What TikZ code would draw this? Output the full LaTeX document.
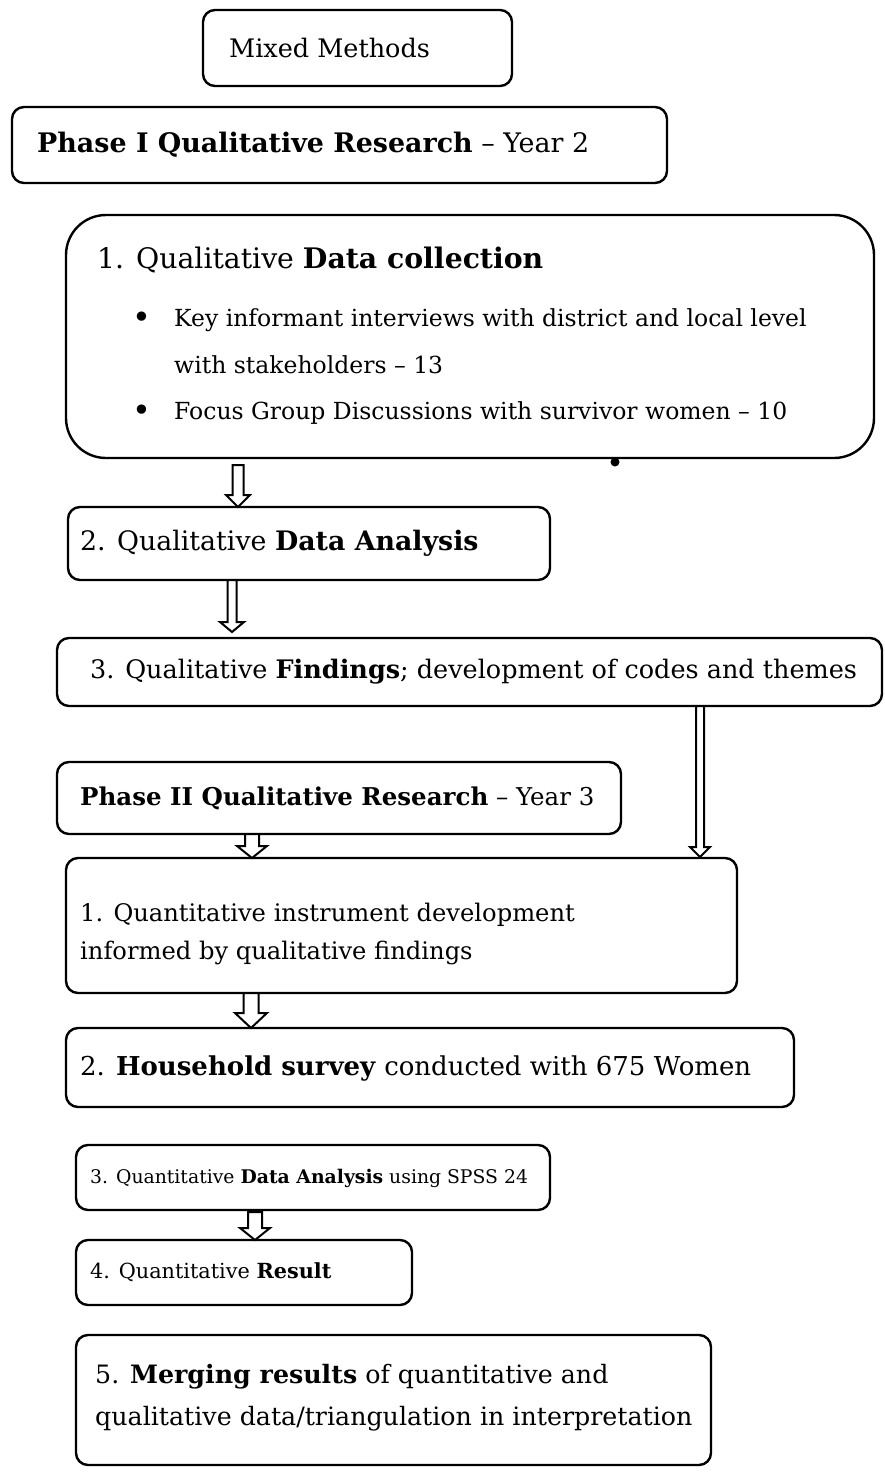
\documentclass[tikz,border=0pt]{standalone}
\usepackage{fontspec}
\setmainfont{DejaVu Serif}
\usetikzlibrary{calc,fit}
\newcommand\holarrow[5]{%
  \draw[arr] let \p1=#1, \p2=#2 in
    (\x1-#3,\y1) -- (\x1+#3,\y1) -- (\x1+#3,\y2+#5) -- (\x1+#4,\y2+#5)
    -- (\x1,\y2) -- (\x1-#4,\y2+#5) -- (\x1-#3,\y2+#5) -- cycle;}
\begin{document}
\begin{tikzpicture}[x=1pt,y=-1pt,
  box/.style={draw,line width=2.4pt,rounded corners=12pt,inner sep=0pt,outer sep=0pt},
  bigbox/.style={box,rounded corners=40pt},
  txt/.style={inner sep=0pt,anchor=west,align=left},
  fs/.style={font=\fontsize{#1}{38}\selectfont},
  fsw/.style={font=\fontsize{#1}{42}\selectfont},
  arr/.style={draw,line width=2pt,fill=white,line join=miter}]
\useasboundingbox (0,0) rectangle (885,1477);
% boxes
\node[box,fit={(203,10) (512,86)}] (mm) {};
\node[box,fit={(12,107) (667,183)}] (p1) {};
\node[bigbox,fit={(66,215) (874,458)}] (dc) {};
\node[box,fit={(68,507) (550,580)}] (da) {};
\node[box,fit={(57,638) (882,706)}] (fi) {};
\node[box,fit={(57,762) (621,834)}] (p2) {};
\node[box,fit={(66,858) (737,993)}] (qi) {};
\node[box,fit={(66,1028) (794,1107)}] (hs) {};
\node[box,fit={(76,1145) (550,1210)}] (qa) {};
\node[box,fit={(76,1240) (412,1305)}] (qr) {};
\node[box,fit={(76,1335) (711,1465)}] (mr) {};
% texts
\node[txt,fs=25.5] (mmT) at (229,48) {Mixed Methods};
\node[txt,fs=26.9] (p1T) at (37,145) {\textbf{Phase I Qualitative Research} – Year 2};
\node[txt,fs=28.3] (dcT) at (97,260) {1. Qualitative \textbf{Data collection}};
\node[txt,fs=32] (b1) at (132,320) {\textbullet};
\node[txt,fs=23.5] (b1T) at (174,320) {Key informant interviews with district and local level};
\node[txt,fs=23.5] (b1U) at (174,365) {with stakeholders – 13};
\node[txt,fs=32] (b2) at (132,413) {\textbullet};
\node[txt,fs=23.5] (b2T) at (174,413) {Focus Group Discussions with survivor women – 10};
\node[txt,fs=26.8] (daT) at (80,543) {2. Qualitative \textbf{Data Analysis}};
\node[txt,fs=25.5] (fiT) at (90,672) {3. Qualitative \textbf{Findings}; development of codes and themes};
\node[txt,fs=24.5] (p2T) at (80,798) {\textbf{Phase II Qualitative Research} – Year 3};
\node[txt,fs=24.2] (qiT) at (80,934) {1. Quantitative instrument development\\informed by qualitative findings};
\node[txt,fs=26] (hsT) at (80,1068) {2. \textbf{Household survey} conducted with 675 Women};
\node[txt,fs=18.8] (qaT) at (90,1178) {3. Quantitative \textbf{Data Analysis} using SPSS 24};
\node[txt,fs=20.8] (qrT) at (90,1272) {4. Quantitative \textbf{Result}};
\node[txt,fsw=25.3] (mrT) at (95,1398) {5. \textbf{Merging results} of quantitative and\\qualitative data/triangulation in interpretation};
% stray dot under the first box
\fill (615,462) circle (4.5);
% arrow axes
\coordinate (x1) at (238,0);
\coordinate (x2) at (232,0);
\coordinate (x3) at (700,0);
\coordinate (x4) at (252,0);
\coordinate (x5) at (251,0);
\coordinate (x6) at (255,0);
% hollow arrows
\holarrow{($(x1 |- dc.south)+(0,7)$)}{(x1 |- da.north)}{5.5pt}{12pt}{12pt}
\holarrow{(x2 |- da.south)}{($(x2 |- fi.north)+(0,-6)$)}{4.5pt}{12pt}{10pt}
\holarrow{(x3 |- fi.south)}{($(x3 |- qi.north)+(0,-1)$)}{4pt}{10pt}{10pt}
\holarrow{(x4 |- p2.south)}{(x4 |- qi.north)}{7pt}{15pt}{12pt}
\holarrow{(x5 |- qi.south)}{(x5 |- hs.north)}{7.5pt}{16pt}{15pt}
\holarrow{($(x6 |- qa.south)+(0,2)$)}{(x6 |- qr.north)}{7pt}{15pt}{12pt}
\end{tikzpicture}
\end{document}
